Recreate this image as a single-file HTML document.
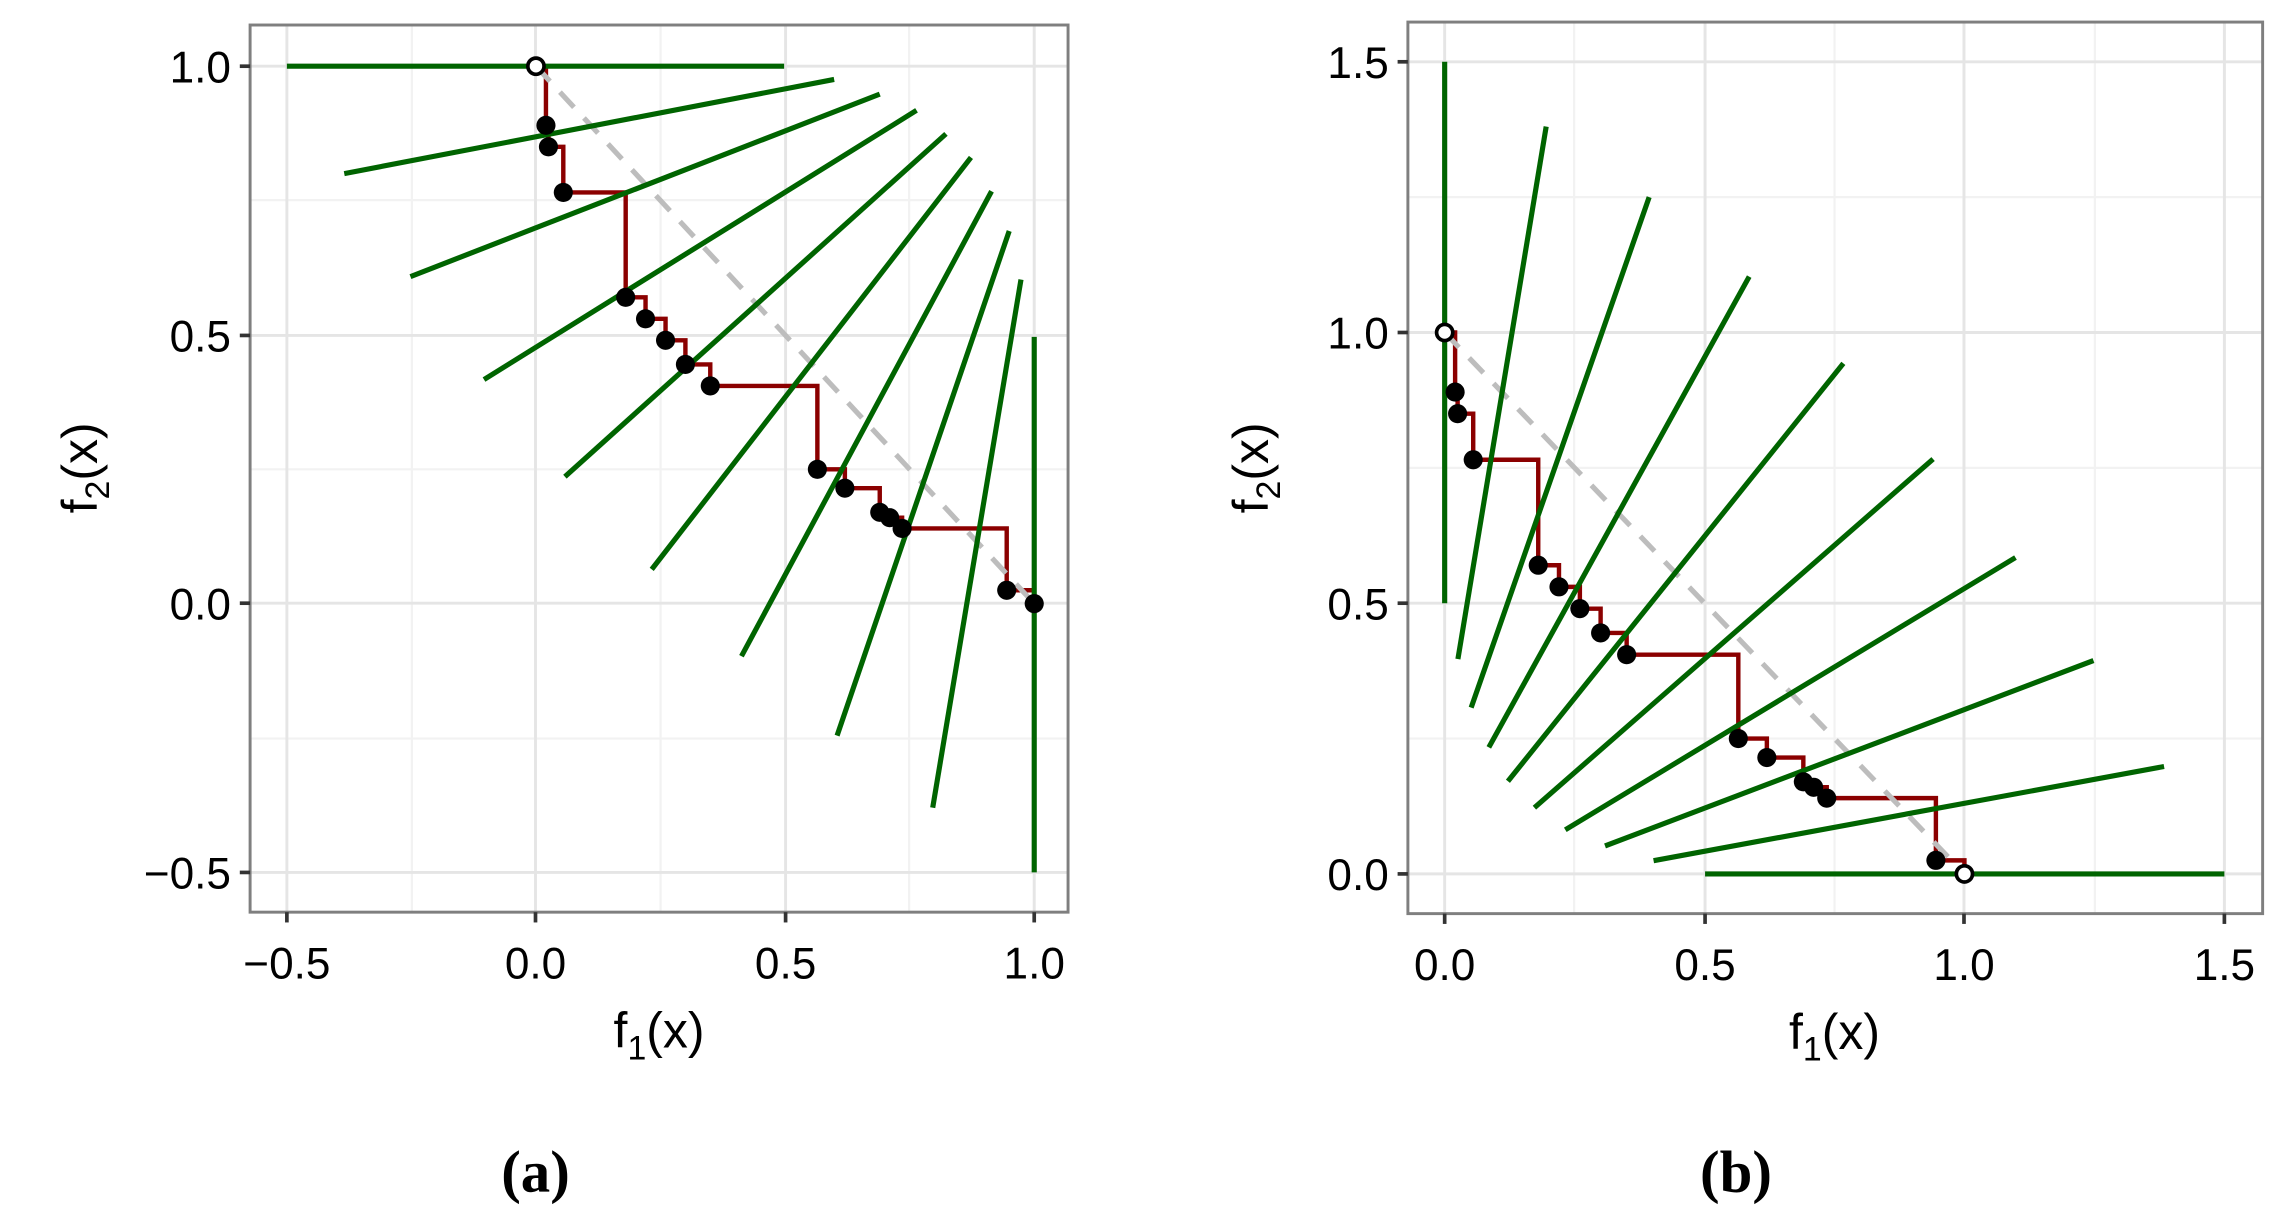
<!DOCTYPE html>
<html><head><meta charset="utf-8"><style>html,body{margin:0;padding:0;background:#fff}svg{display:block}</style></head>
<body>
<svg width="2295" height="1227" viewBox="0 0 1560 834" preserveAspectRatio="none" xmlns="http://www.w3.org/2000/svg" font-family="'Liberation Sans', sans-serif">
<!-- Panel a -->
<rect x="170" y="17" width="556" height="603" fill="#fff"/>
<g stroke="#f2f2f2" stroke-width="1.5">
<line x1="280" y1="17" x2="280" y2="620"/><line x1="449" y1="17" x2="449" y2="620"/><line x1="618" y1="17" x2="618" y2="620"/>
<line x1="170" y1="136" x2="726" y2="136"/><line x1="170" y1="319" x2="726" y2="319"/><line x1="170" y1="502" x2="726" y2="502"/>
</g>
<g stroke="#e5e5e5" stroke-width="2">
<line x1="195" y1="17" x2="195" y2="620"/><line x1="364" y1="17" x2="364" y2="620"/><line x1="534" y1="17" x2="534" y2="620"/><line x1="703" y1="17" x2="703" y2="620"/>
<line x1="170" y1="45" x2="726" y2="45"/><line x1="170" y1="228" x2="726" y2="228"/><line x1="170" y1="410" x2="726" y2="410"/><line x1="170" y1="593" x2="726" y2="593"/>
</g>
<path d="M364.3,45 H371.1 V85.2 H372.8 V99.8 H382.9 V130.8 H425.3 V202.1 H438.8 V216.7 H452.4 V231.3 H465.9 V247.7 H482.8 V262.3 H555.6 V319 H574.3 V331.8 H598 V348.2 H604.8 V351.9 H613.2 V359.2 H684.3 V401.2 H703 V410.3" fill="none" stroke="#8b0000" stroke-width="3"/>
<line x1="364.3" y1="45" x2="703" y2="410.3" stroke="#bdbdbd" stroke-width="3.5" stroke-dasharray="14,10"/>
<g stroke="#006400" stroke-width="3.5">
<line x1="195" y1="45" x2="533" y2="45"/>
<line x1="234" y1="118" x2="567" y2="54"/>
<line x1="279" y1="188" x2="598" y2="64"/>
<line x1="329" y1="258" x2="623" y2="75"/>
<line x1="384" y1="324" x2="643" y2="91"/>
<line x1="443" y1="387" x2="660" y2="107"/>
<line x1="504" y1="446" x2="674" y2="130"/>
<line x1="569" y1="500" x2="686" y2="157"/>
<line x1="634" y1="549" x2="694" y2="190"/>
<line x1="703" y1="229" x2="703" y2="593"/>
</g>
<g fill="#000">
<circle cx="371.1" cy="85.2" r="6.5"/><circle cx="372.8" cy="99.8" r="6.5"/><circle cx="382.9" cy="130.8" r="6.5"/>
<circle cx="425.3" cy="202.1" r="6.5"/><circle cx="438.8" cy="216.7" r="6.5"/><circle cx="452.4" cy="231.3" r="6.5"/><circle cx="465.9" cy="247.7" r="6.5"/><circle cx="482.8" cy="262.3" r="6.5"/>
<circle cx="555.6" cy="319" r="6.5"/><circle cx="574.3" cy="331.8" r="6.5"/><circle cx="598" cy="348.2" r="6.5"/><circle cx="604.8" cy="351.9" r="6.5"/><circle cx="613.2" cy="359.2" r="6.5"/>
<circle cx="684.3" cy="401.2" r="6.5"/><circle cx="703" cy="410.3" r="6.5"/>
</g>
<circle cx="364.3" cy="45" r="5.5" fill="#fff" stroke="#000" stroke-width="2.5"/>
<rect x="170" y="17" width="556" height="603" fill="none" stroke="#7f7f7f" stroke-width="2"/>
<g stroke="#333" stroke-width="2.5">
<line x1="195" y1="620" x2="195" y2="627"/><line x1="364" y1="620" x2="364" y2="627"/><line x1="534" y1="620" x2="534" y2="627"/><line x1="703" y1="620" x2="703" y2="627"/>
<line x1="163" y1="45" x2="170" y2="45"/><line x1="163" y1="228" x2="170" y2="228"/><line x1="163" y1="410" x2="170" y2="410"/><line x1="163" y1="593" x2="170" y2="593"/>
</g>
<g font-size="30" fill="#000" text-anchor="middle">
<text x="195" y="665">−0.5</text><text x="364" y="665">0.0</text><text x="534" y="665">0.5</text><text x="703" y="665">1.0</text>
</g>
<g font-size="30" fill="#000" text-anchor="end">
<text x="157" y="56">1.0</text><text x="157" y="239">0.5</text><text x="157" y="421">0.0</text><text x="157" y="604">−0.5</text>
</g>
<text x="448" y="712" font-size="34" text-anchor="middle">f<tspan font-size="23" dy="8">1</tspan><tspan dy="-8">(x)</tspan></text>
<text transform="translate(66,318) rotate(-90)" font-size="34" text-anchor="middle">f<tspan font-size="23" dy="8">2</tspan><tspan dy="-8">(x)</tspan></text>
<text x="364" y="810" font-size="40" font-weight="bold" text-anchor="middle" font-family="'Liberation Serif', serif">(a)</text>

<!-- Panel b -->
<rect x="957" y="15" width="581" height="606" fill="#fff"/>
<g stroke="#f2f2f2" stroke-width="1.5">
<line x1="1070" y1="15" x2="1070" y2="621"/><line x1="1247" y1="15" x2="1247" y2="621"/><line x1="1424" y1="15" x2="1424" y2="621"/>
<line x1="957" y1="134" x2="1538" y2="134"/><line x1="957" y1="318" x2="1538" y2="318"/><line x1="957" y1="502" x2="1538" y2="502"/>
</g>
<g stroke="#e5e5e5" stroke-width="2">
<line x1="982" y1="15" x2="982" y2="621"/><line x1="1159" y1="15" x2="1159" y2="621"/><line x1="1335" y1="15" x2="1335" y2="621"/><line x1="1512" y1="15" x2="1512" y2="621"/>
<line x1="957" y1="42" x2="1538" y2="42"/><line x1="957" y1="226" x2="1538" y2="226"/><line x1="957" y1="410" x2="1538" y2="410"/><line x1="957" y1="594" x2="1538" y2="594"/>
</g>
<path d="M982,226 H989.1 V266.5 H990.8 V281.2 H1001.4 V312.5 H1045.6 V384.2 H1059.7 V398.9 H1073.9 V413.7 H1088 V430.2 H1105.7 V445 H1181.6 V502 H1201 V514.9 H1225.8 V531.4 H1232.8 V535.1 H1241.7 V542.5 H1315.9 V584.8 H1335.3 V594" fill="none" stroke="#8b0000" stroke-width="3"/>
<line x1="982" y1="226" x2="1335.3" y2="594" stroke="#bdbdbd" stroke-width="3.5" stroke-dasharray="14,10"/>
<g stroke="#006400" stroke-width="3.5">
<line x1="982" y1="42" x2="982" y2="410"/>
<line x1="991" y1="448" x2="1051" y2="86"/>
<line x1="1000" y1="481" x2="1121" y2="134"/>
<line x1="1012" y1="508" x2="1189" y2="188"/>
<line x1="1025" y1="531" x2="1253" y2="247"/>
<line x1="1043" y1="549" x2="1314" y2="312"/>
<line x1="1064" y1="564" x2="1370" y2="379"/>
<line x1="1091" y1="575" x2="1423" y2="449"/>
<line x1="1124" y1="585" x2="1471" y2="521"/>
<line x1="1159" y1="594" x2="1512" y2="594"/>
</g>
<g fill="#000">
<circle cx="989.1" cy="266.5" r="6.5"/><circle cx="990.8" cy="281.2" r="6.5"/><circle cx="1001.4" cy="312.5" r="6.5"/>
<circle cx="1045.6" cy="384.2" r="6.5"/><circle cx="1059.7" cy="398.9" r="6.5"/><circle cx="1073.9" cy="413.7" r="6.5"/><circle cx="1088" cy="430.2" r="6.5"/><circle cx="1105.7" cy="445" r="6.5"/>
<circle cx="1181.6" cy="502" r="6.5"/><circle cx="1201" cy="514.9" r="6.5"/><circle cx="1225.8" cy="531.4" r="6.5"/><circle cx="1232.8" cy="535.1" r="6.5"/><circle cx="1241.7" cy="542.5" r="6.5"/>
<circle cx="1315.9" cy="584.8" r="6.5"/>
</g>
<circle cx="982" cy="226" r="5.5" fill="#fff" stroke="#000" stroke-width="2.5"/>
<circle cx="1335.3" cy="594" r="5.5" fill="#fff" stroke="#000" stroke-width="2.5"/>
<rect x="957" y="15" width="581" height="606" fill="none" stroke="#7f7f7f" stroke-width="2"/>
<g stroke="#333" stroke-width="2.5">
<line x1="982" y1="621" x2="982" y2="628"/><line x1="1159" y1="621" x2="1159" y2="628"/><line x1="1335" y1="621" x2="1335" y2="628"/><line x1="1512" y1="621" x2="1512" y2="628"/>
<line x1="950" y1="42" x2="957" y2="42"/><line x1="950" y1="226" x2="957" y2="226"/><line x1="950" y1="410" x2="957" y2="410"/><line x1="950" y1="594" x2="957" y2="594"/>
</g>
<g font-size="30" fill="#000" text-anchor="middle">
<text x="982" y="666">0.0</text><text x="1159" y="666">0.5</text><text x="1335" y="666">1.0</text><text x="1512" y="666">1.5</text>
</g>
<g font-size="30" fill="#000" text-anchor="end">
<text x="944" y="53">1.5</text><text x="944" y="237">1.0</text><text x="944" y="421">0.5</text><text x="944" y="605">0.0</text>
</g>
<text x="1247" y="713" font-size="34" text-anchor="middle">f<tspan font-size="23" dy="8">1</tspan><tspan dy="-8">(x)</tspan></text>
<text transform="translate(862,318) rotate(-90)" font-size="34" text-anchor="middle">f<tspan font-size="23" dy="8">2</tspan><tspan dy="-8">(x)</tspan></text>
<text x="1180" y="810" font-size="40" font-weight="bold" text-anchor="middle" font-family="'Liberation Serif', serif">(b)</text>
</svg>
</body></html>
